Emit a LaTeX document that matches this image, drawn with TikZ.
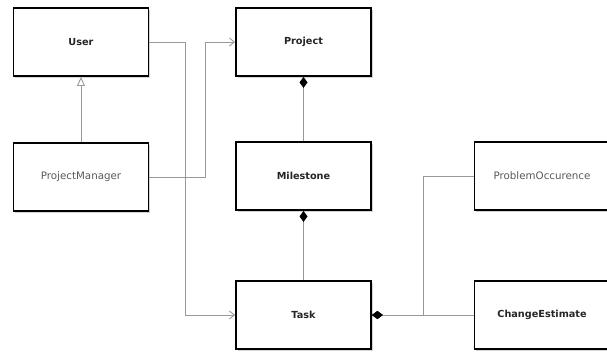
\documentclass[tikz,border=0pt]{standalone}
\usepackage{fontspec}
\setmainfont{DejaVu Sans}
\usetikzlibrary{arrows.meta,shadows}
\begin{document}
\begin{tikzpicture}[x=1pt,y=-1pt,
  cls/.style={draw=black,line width=1.8pt,fill=white,minimum width=135pt,minimum height=68pt,
    inner sep=0pt,text=black!65,font=\fontsize{10.3}{12}\selectfont,
    drop shadow={shadow xshift=1.5pt,shadow yshift=-1.5pt,opacity=0.35,fill=gray}},
  bcls/.style={cls,text=black!85,font=\fontsize{9.7}{12}\selectfont\bfseries},
  conn/.style={draw=gray!80,line width=0.9pt},
  assoc/.style={conn,-{Straight Barb[length=5pt,width=8pt]}},
  gen/.style={conn,-{Triangle[open,length=9pt,width=8pt,fill=white]}},
  comp/.style={conn,-{Diamond[length=11pt,width=8pt,fill=black,color=black]}}]
\useasboundingbox (0,0) rectangle (607,354);
\node[bcls] (user) at (81,42) {User};
\node[cls] (pm) at (81,177) {ProjectManager};
\node[bcls] (project) at (303.5,42) {Project};
\node[bcls] (ms) at (303.5,176) {Milestone};
\node[bcls] (task) at (303.5,315) {Task};
\node[cls] (po) at (542,176) {ProblemOccurence};
\node[bcls] (ce) at (542,315) {ChangeEstimate};
\coordinate (j1) at (185,42);
\coordinate (j2) at (205,177);
\coordinate (j3) at (423,315);
\draw[assoc] (user.east) -- (j1) -- (j1 |- task.west) -- (task.west);
\draw[assoc] (pm.east) -- (j2) -- (j2 |- project.west) -- (project.west);
\draw[gen] (pm.north) -- (user.south);
\draw[comp] (ms.north) -- (project.south);
\draw[comp] (task.north) -- (ms.south);
\draw[comp] (po.west) -- (j3 |- po.west) -- (j3) -- (task.east);
\draw[comp] (ce.west) -- (task.east);
\end{tikzpicture}
\end{document}
